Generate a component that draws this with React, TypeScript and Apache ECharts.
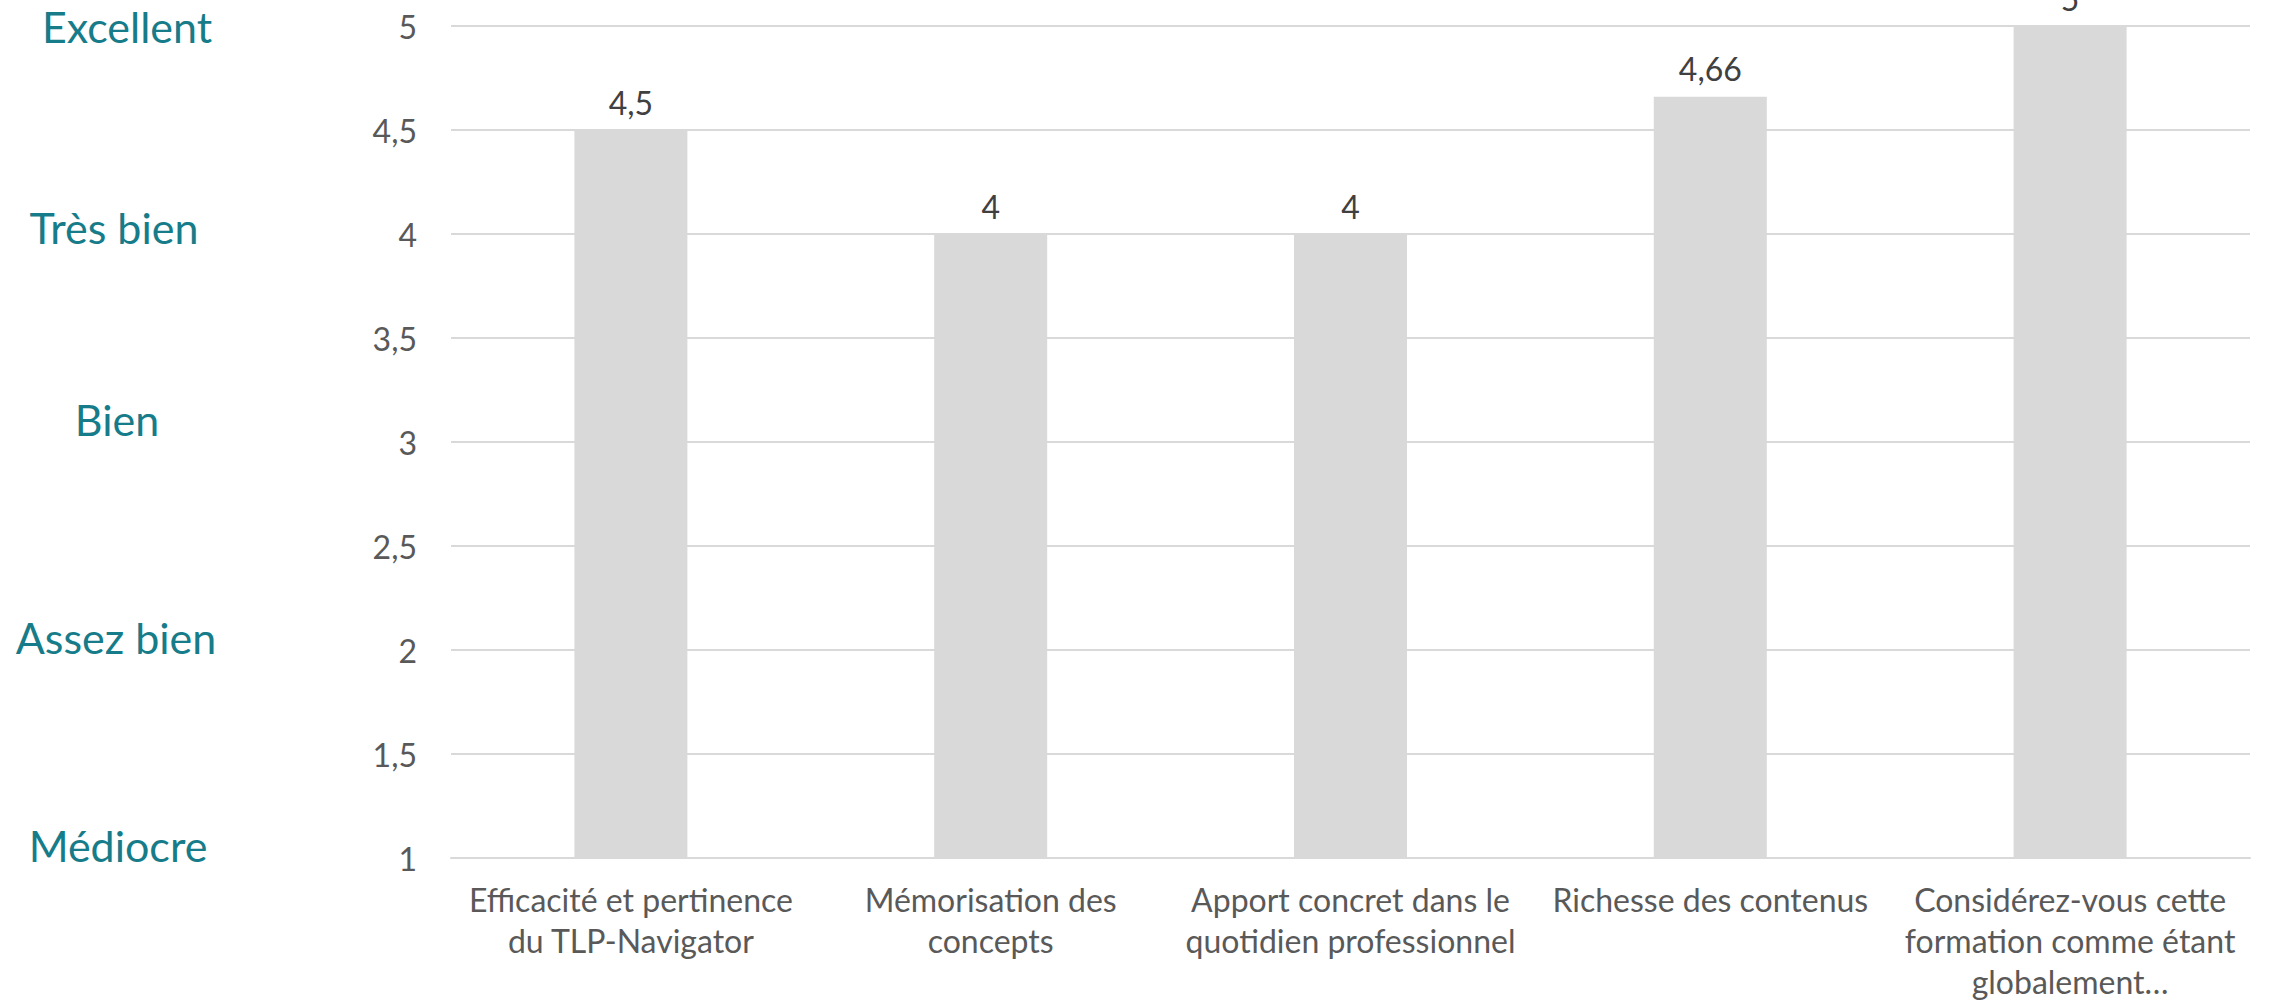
import React, { useEffect, useRef } from "react";
import * as echarts from "echarts";

const categories: string[] = [
  "Efficacité et pertinence\ndu TLP-Navigator",
  "Mémorisation des\nconcepts",
  "Apport concret dans le\nquotidien professionnel",
  "Richesse des contenus",
  "Considérez-vous cette\nformation comme étant\nglobalement…",
];
const scores: number[] = [4.5, 4, 4, 4.66, 5];
const yMin = 1;
const yMax = 5;
const yStep = 0.5;
const ratingLabels: string[] = ["Excellent", "Très bien", "Bien", "Assez bien", "Médiocre"];

const FONT = "Lato, 'Open Sans', sans-serif";

export default function App() {
  const ref = useRef<HTMLDivElement>(null);
  useEffect(() => {
    document.body.style.margin = "0";
    const chart = echarts.init(ref.current!, undefined, { renderer: "svg" });
    const ratingPos = [
      [127, 26],
      [114, 227],
      [117, 419],
      [116, 637],
      [118, 845],
    ];
    chart.setOption({
      animation: false,
      backgroundColor: "#ffffff",
      grid: {
        left: 451,
        right: 22,
        top: 26,
        bottom: 144,
        containLabel: false,
        outerBoundsMode: "none",
      },
      xAxis: {
        type: "category",
        data: categories,
        axisLine: { lineStyle: { color: "#D9D9D9", width: 2 } },
        axisTick: { show: false },
        axisLabel: {
          color: "#595959",
          fontFamily: FONT,
          fontSize: 32,
          lineHeight: 41,
          margin: 21,
          interval: 0,
        },
      },
      yAxis: {
        type: "value",
        min: yMin,
        max: yMax,
        interval: yStep,
        axisLine: { show: false },
        axisTick: { show: false },
        splitLine: { lineStyle: { color: "#D9D9D9", width: 2 } },
        axisLabel: {
          color: "#595959",
          fontFamily: FONT,
          fontSize: 32,
          margin: 34,
          formatter: (v: number) => String(v).replace(".", ","),
        },
      },
      series: [
        {
          type: "bar",
          data: scores,
          barWidth: 113,
          itemStyle: { color: "#D9D9D9" },
          label: {
            show: true,
            position: "top",
            distance: 12,
            color: "#404040",
            fontFamily: FONT,
            fontSize: 32,
            formatter: (p: any) => String(p.value).replace(".", ","),
          },
        },
      ],
      graphic: ratingLabels.map((t, i) => ({
        type: "text",
        x: ratingPos[i][0],
        y: ratingPos[i][1],
        style: {
          text: t,
          fill: "#177C89",
          font: `43px ${FONT}`,
          textAlign: "center",
          textVerticalAlign: "middle",
        },
      })),
    });
    return () => chart.dispose();
  }, []);
  return (
    <div
      ref={ref}
      style={{ position: "absolute", left: 0, top: 0, width: 2272, height: 1002 }}
    />
  );
}
